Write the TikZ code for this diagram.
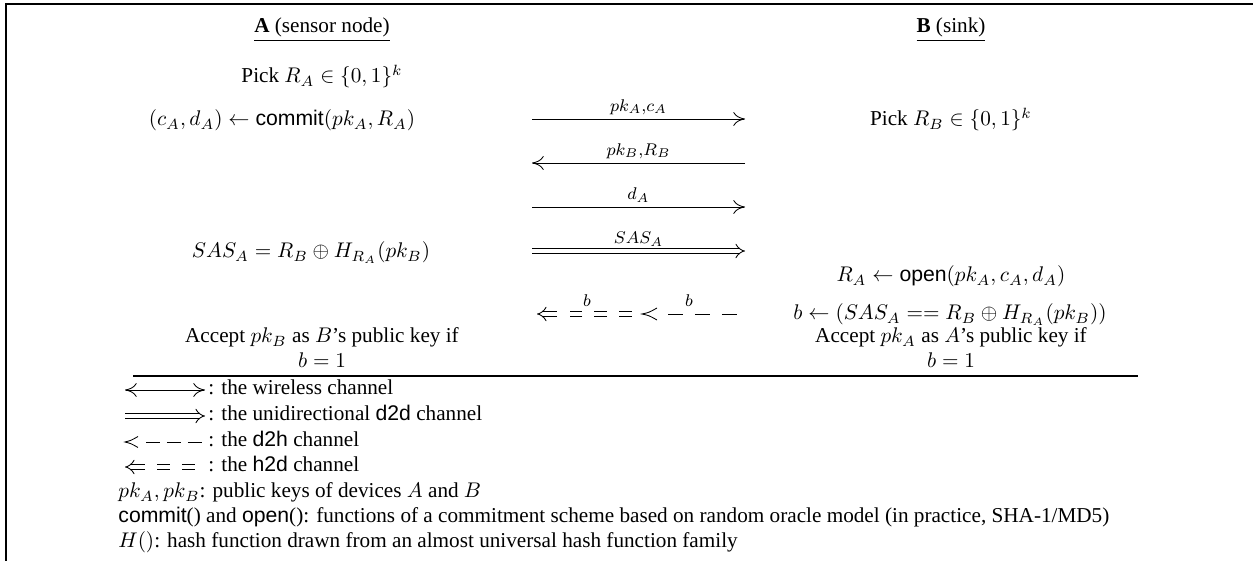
\documentclass[tikz,border=0pt]{standalone}
\usepackage[no-math]{fontspec}
\setmainfont{Liberation Serif}
\setsansfont{Liberation Sans}
\usetikzlibrary{arrows.meta,calc}
\newcommand{\sfn}[1]{\mbox{\sffamily #1}}
\begin{document}
\begin{tikzpicture}[x=0.4717pt,y=-0.4717pt,
  txt/.style={inner sep=0pt, anchor=base},
  lbl/.style={inner sep=0pt, font={\fontsize{11.5}{13}\selectfont}},
  msg/.style={line width=0.4pt, -{To[length=5.5pt,width=6.5pt]}},
  bimsg/.style={line width=0.4pt, {To[length=5.5pt,width=6.5pt]}-{To[length=5.5pt,width=6.5pt]}},
  dtd/.style={double, double distance=2pt, line width=0.4pt, -{Implies}},
  htdtip/.style={double, double distance=2pt, line width=0.4pt, -{Implies}},
  htddash/.style={double, double distance=2pt, line width=0.4pt, dash pattern=on 6pt off 5.7pt},
  dth/.style={line width=0.4pt, dash pattern=on 7.07pt off 5.66pt},
  dthlegend/.style={line width=0.4pt, dash pattern=on 6.6pt off 3.3pt},
  precmark/.style={line width=0.4pt},
  rulestyle/.style={line width=0.5pt},
  frame/.style={line width=1pt}
]
\useasboundingbox (0,0) rectangle (1253,561);
\draw[frame] (6,561) -- (6,4) -- (1253,4);

% headers
\node[txt] (hA) at (322,33) {\underline{\textbf{A} (sensor node)}};
\node[txt] (hB) at (951,33) {\underline{\textbf{B} (sink)}};

% left column
\node[txt] (pickA) at (322,83) {Pick $R_A \in \{0,1\}^k$};
\node[txt] (commitA) at (282,126) {$(c_A, d_A) \leftarrow \sfn{commit}(pk_A, R_A)$};
\node[txt] (sasA) at (311,258) {$SAS_A = R_B \oplus H_{R_A}(pk_B)$};
\node[txt] (accA) at (322,343) {Accept $pk_B$ as $B$'s public key if};
\node[txt] (accA2) at (322,368) {$b=1$};

% right column
\node[txt] (pickB) at (951,126) {Pick $R_B \in \{0,1\}^k$};
\node[txt] (openB) at (951,282) {$R_A \leftarrow \sfn{open}(pk_A, c_A, d_A)$};
\node[txt] (bB) at (950,320) {$b \leftarrow (SAS_A == R_B \oplus H_{R_A}(pk_B))$};
\node[txt] (accB) at (951,343) {Accept $pk_A$ as $A$'s public key if};
\node[txt] (accB2) at (951,368) {$b=1$};

% message endpoints
\coordinate (L1) at (532,119); \coordinate (R1) at (745,119);
\coordinate (L2) at (532,163); \coordinate (R2) at (745,163);
\coordinate (L3) at (532,207); \coordinate (R3) at (745,207);
\coordinate (L4) at (532,251); \coordinate (R4) at (745,251);

\draw[msg] (L1) -- node[lbl, above=2pt] {$\scriptstyle pk_A,c_A$} (R1);
\draw[msg] (R2) -- node[lbl, above=2pt] {$\scriptstyle pk_B,R_B$} (L2);
\draw[msg] (L3) -- node[lbl, above=2pt] {$\scriptstyle d_A$} (R3);
\draw[dtd] (L4) -- node[lbl, above=2pt] {$\scriptstyle SAS_A$} (R4);

% h2d (human to A) and d2h (B to human)
\coordinate (H2dTip) at (537,314); \coordinate (H2dTail) at (557,314);
\coordinate (H2dA) at (569,314); \coordinate (H2dB) at (632,314);
\draw[htdtip] (H2dTail) -- (H2dTip);
\draw[htddash] (H2dB) -- (H2dA);
\node[lbl, anchor=base] (b1) at (587,307) {$\scriptstyle b$};
\coordinate (D2hTip) at (642,314); \coordinate (D2hA) at (668,314); \coordinate (D2hB) at (737,314);
\draw[precmark] ($(D2hTip)+(15,-6)$) .. controls ($(D2hTip)+(7,-1.5)$) .. (D2hTip) .. controls ($(D2hTip)+(7,1.5)$) .. ($(D2hTip)+(15,6)$);
\draw[dth] (D2hA) -- (D2hB);
\node[lbl, anchor=base] (b2) at (689,307) {$\scriptstyle b$};

% rule
\coordinate (ruleL) at (133,376); \coordinate (ruleR) at (1138,376);
\draw[rulestyle] (ruleL) -- (ruleR);

% legend
\coordinate (g1a) at (125,390); \coordinate (g1b) at (205,390);
\draw[bimsg] (g1a) -- (g1b);
\node[txt, anchor=base west] (t1) at (208,395) {: the wireless channel};
\coordinate (g2a) at (125,416); \coordinate (g2b) at (205,416);
\draw[dtd] (g2a) -- (g2b);
\node[txt, anchor=base west] (t2) at (208,421) {: the unidirectional \textsf{d2d} channel};
\coordinate (g3a) at (125,442); \coordinate (g3m) at (146,442); \coordinate (g3b) at (202,442);
\draw[precmark] ($(g3a)+(13,-5.5)$) .. controls ($(g3a)+(6,-1.5)$) .. (g3a) .. controls ($(g3a)+(6,1.5)$) .. ($(g3a)+(13,5.5)$);
\draw[dthlegend] (g3m) -- (g3b);
\node[txt, anchor=base west] (t3) at (208,447) {: the \textsf{d2h} channel};
\coordinate (g4a) at (125,467); \coordinate (g4t) at (145,467);
\coordinate (g4m) at (157,467); \coordinate (g4b) at (200,467);
\draw[htdtip] (g4t) -- (g4a);
\draw[htddash] (g4m) -- (g4b);
\node[txt, anchor=base west] (t4) at (208,472) {: the \textsf{h2d} channel};
\node[txt, anchor=base west] (t5) at (118,498) {$pk_A, pk_B$: public keys of devices $A$ and $B$};
\node[txt, anchor=base west] (t6) at (118,523) {\textsf{commit}() and \textsf{open}(): functions of a commitment scheme based on random oracle model (in practice, SHA-1/MD5)};
\node[txt, anchor=base west] (t7) at (118,548) {$H()$: hash function drawn from an almost universal hash function family};
\end{tikzpicture}
\end{document}
